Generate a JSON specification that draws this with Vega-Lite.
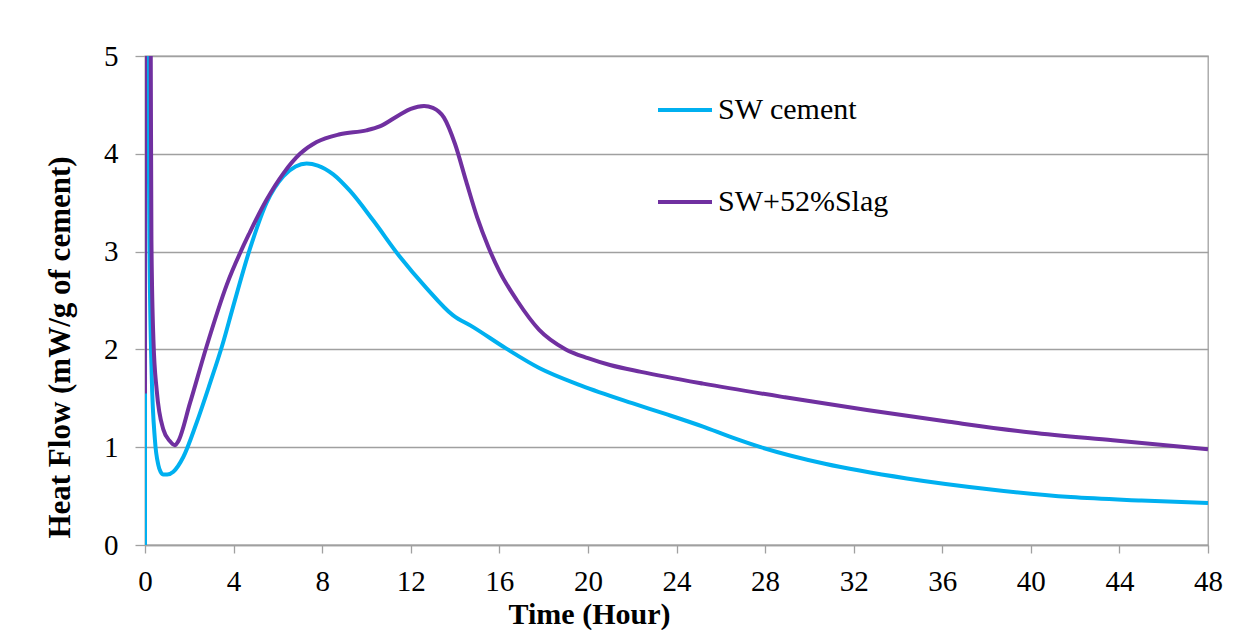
{
  "$schema": "https://vega.github.io/schema/vega-lite/v6.json",
  "autosize": {"type": "none"},
  "padding": {"left": 145, "top": 56, "right": 45, "bottom": 85},
  "width": 1063,
  "height": 489,
  "background": "white",
  "config": {
    "view": {"stroke": "#a0a0a0", "strokeWidth": 1.3},
    "font": "Liberation Serif",
    "axis": {
      "labelFont": "Liberation Serif",
      "titleFont": "Liberation Serif",
      "labelColor": "black",
      "titleColor": "black",
      "tickColor": "#a0a0a0",
      "domainColor": "#a0a0a0",
      "gridColor": "#a0a0a0",
      "gridWidth": 1.3,
      "tickWidth": 1.3,
      "domainWidth": 1.3
    },
    "legend": {
      "labelFont": "Liberation Serif"
    }
  },
  "data": {
    "values": [
      {"series": "SW cement", "t": 0, "v": 0},
      {"series": "SW cement", "t": 0.01, "v": 9},
      {"series": "SW cement", "t": 0.1, "v": 7},
      {"series": "SW cement", "t": 0.15, "v": 5},
      {"series": "SW cement", "t": 0.2, "v": 3.12},
      {"series": "SW cement", "t": 0.3, "v": 1.76},
      {"series": "SW cement", "t": 0.45, "v": 1.07},
      {"series": "SW cement", "t": 0.6, "v": 0.82},
      {"series": "SW cement", "t": 0.7, "v": 0.75},
      {"series": "SW cement", "t": 0.83, "v": 0.72},
      {"series": "SW cement", "t": 1.0, "v": 0.72},
      {"series": "SW cement", "t": 1.28, "v": 0.75},
      {"series": "SW cement", "t": 1.73, "v": 0.9},
      {"series": "SW cement", "t": 2.33, "v": 1.25},
      {"series": "SW cement", "t": 2.93, "v": 1.65},
      {"series": "SW cement", "t": 3.5, "v": 2.05},
      {"series": "SW cement", "t": 3.97, "v": 2.43},
      {"series": "SW cement", "t": 4.74, "v": 3.03},
      {"series": "SW cement", "t": 5.49, "v": 3.5},
      {"series": "SW cement", "t": 6.25, "v": 3.77},
      {"series": "SW cement", "t": 6.8, "v": 3.87},
      {"series": "SW cement", "t": 7.3, "v": 3.9},
      {"series": "SW cement", "t": 7.8, "v": 3.88},
      {"series": "SW cement", "t": 8.5, "v": 3.79},
      {"series": "SW cement", "t": 9.26, "v": 3.62},
      {"series": "SW cement", "t": 10.3, "v": 3.32},
      {"series": "SW cement", "t": 11.5, "v": 2.95},
      {"series": "SW cement", "t": 12.7, "v": 2.63},
      {"series": "SW cement", "t": 13.9, "v": 2.35},
      {"series": "SW cement", "t": 14.8, "v": 2.23},
      {"series": "SW cement", "t": 16.3, "v": 2.01},
      {"series": "SW cement", "t": 17.8, "v": 1.81},
      {"series": "SW cement", "t": 19.7, "v": 1.63},
      {"series": "SW cement", "t": 22.0, "v": 1.45},
      {"series": "SW cement", "t": 23.5, "v": 1.34},
      {"series": "SW cement", "t": 25.2, "v": 1.21},
      {"series": "SW cement", "t": 26.5, "v": 1.1},
      {"series": "SW cement", "t": 27.8, "v": 1.0},
      {"series": "SW cement", "t": 30.7, "v": 0.83},
      {"series": "SW cement", "t": 34.4, "v": 0.68},
      {"series": "SW cement", "t": 38.1, "v": 0.57},
      {"series": "SW cement", "t": 41.8, "v": 0.49},
      {"series": "SW cement", "t": 45, "v": 0.455},
      {"series": "SW cement", "t": 48, "v": 0.43},
      {"series": "SW+52%Slag", "t": 0, "v": 1.55},
      {"series": "SW+52%Slag", "t": 0.01, "v": 9},
      {"series": "SW+52%Slag", "t": 0.15, "v": 8},
      {"series": "SW+52%Slag", "t": 0.26, "v": 5},
      {"series": "SW+52%Slag", "t": 0.29, "v": 3.12},
      {"series": "SW+52%Slag", "t": 0.38, "v": 2.1},
      {"series": "SW+52%Slag", "t": 0.53, "v": 1.58},
      {"series": "SW+52%Slag", "t": 0.83, "v": 1.18},
      {"series": "SW+52%Slag", "t": 1.13, "v": 1.06},
      {"series": "SW+52%Slag", "t": 1.35, "v": 1.02},
      {"series": "SW+52%Slag", "t": 1.5, "v": 1.06},
      {"series": "SW+52%Slag", "t": 2.03, "v": 1.45},
      {"series": "SW+52%Slag", "t": 2.78, "v": 2.03},
      {"series": "SW+52%Slag", "t": 3.69, "v": 2.66},
      {"series": "SW+52%Slag", "t": 4.74, "v": 3.2},
      {"series": "SW+52%Slag", "t": 5.49, "v": 3.53},
      {"series": "SW+52%Slag", "t": 6.25, "v": 3.8},
      {"series": "SW+52%Slag", "t": 7.0, "v": 4.0},
      {"series": "SW+52%Slag", "t": 7.75, "v": 4.12},
      {"series": "SW+52%Slag", "t": 8.8, "v": 4.2},
      {"series": "SW+52%Slag", "t": 10.0, "v": 4.24},
      {"series": "SW+52%Slag", "t": 10.6, "v": 4.28},
      {"series": "SW+52%Slag", "t": 11.5, "v": 4.4},
      {"series": "SW+52%Slag", "t": 12.0, "v": 4.46},
      {"series": "SW+52%Slag", "t": 12.6, "v": 4.49},
      {"series": "SW+52%Slag", "t": 13.0, "v": 4.47},
      {"series": "SW+52%Slag", "t": 13.5, "v": 4.37},
      {"series": "SW+52%Slag", "t": 14.0, "v": 4.1},
      {"series": "SW+52%Slag", "t": 14.5, "v": 3.72},
      {"series": "SW+52%Slag", "t": 15.0, "v": 3.35},
      {"series": "SW+52%Slag", "t": 15.5, "v": 3.05},
      {"series": "SW+52%Slag", "t": 16.0, "v": 2.8},
      {"series": "SW+52%Slag", "t": 16.8, "v": 2.5},
      {"series": "SW+52%Slag", "t": 17.8, "v": 2.2},
      {"series": "SW+52%Slag", "t": 19.0, "v": 2.0},
      {"series": "SW+52%Slag", "t": 20.0, "v": 1.91},
      {"series": "SW+52%Slag", "t": 21.0, "v": 1.84},
      {"series": "SW+52%Slag", "t": 22.4, "v": 1.77},
      {"series": "SW+52%Slag", "t": 25.2, "v": 1.65},
      {"series": "SW+52%Slag", "t": 28.9, "v": 1.51},
      {"series": "SW+52%Slag", "t": 32.6, "v": 1.38},
      {"series": "SW+52%Slag", "t": 36.3, "v": 1.26},
      {"series": "SW+52%Slag", "t": 40.0, "v": 1.15},
      {"series": "SW+52%Slag", "t": 43.7, "v": 1.07},
      {"series": "SW+52%Slag", "t": 48, "v": 0.98}
    ]
  },
  "mark": {"type": "line", "interpolate": "monotone", "strokeWidth": 4, "clip": true},
  "encoding": {
    "x": {
      "field": "t",
      "type": "quantitative",
      "scale": {"domain": [0, 48], "nice": false, "zero": false},
      "axis": {
        "values": [0, 4, 8, 12, 16, 20, 24, 28, 32, 36, 40, 44, 48],
        "grid": false,
        "tickSize": 8,
        "labelFontSize": 29,
        "labelPadding": 14,
        "labelFlush": false,
        "title": "Time (Hour)",
        "titleFontSize": 30,
        "titleFontWeight": "bold",
        "titleX": 444,
        "titleY": 69,
        "titleBaseline": "middle",
        "titleAlign": "center"
      }
    },
    "y": {
      "field": "v",
      "type": "quantitative",
      "scale": {"domain": [0, 5], "nice": false},
      "axis": {
        "values": [0, 1, 2, 3, 4, 5],
        "grid": true,
        "domain": false,
        "tickSize": 10,
        "labelFontSize": 29,
        "labelPadding": 17,
        "labelFlush": false,
        "title": "Heat Flow (mW/g of cement)",
        "titleFontSize": 31,
        "titleFontWeight": "bold",
        "titleX": -85,
        "titleY": 291,
        "titleBaseline": "middle",
        "titleAlign": "center"
      }
    },
    "color": {
      "field": "series",
      "type": "nominal",
      "scale": {"domain": ["SW cement", "SW+52%Slag"], "range": ["#00B0F0", "#7030A0"]},
      "legend": {
        "title": null,
        "orient": "none",
        "legendX": 511,
        "legendY": 25,
        "direction": "vertical",
        "padding": 0,
        "symbolType": "stroke",
        "symbolSize": 2916,
        "symbolStrokeWidth": 4,
        "labelFont": "Liberation Serif",
        "labelFontSize": 30,
        "labelColor": "black",
        "labelOffset": 4,
        "rowPadding": 48,
        "labelLimit": 400
      }
    }
  }
}
